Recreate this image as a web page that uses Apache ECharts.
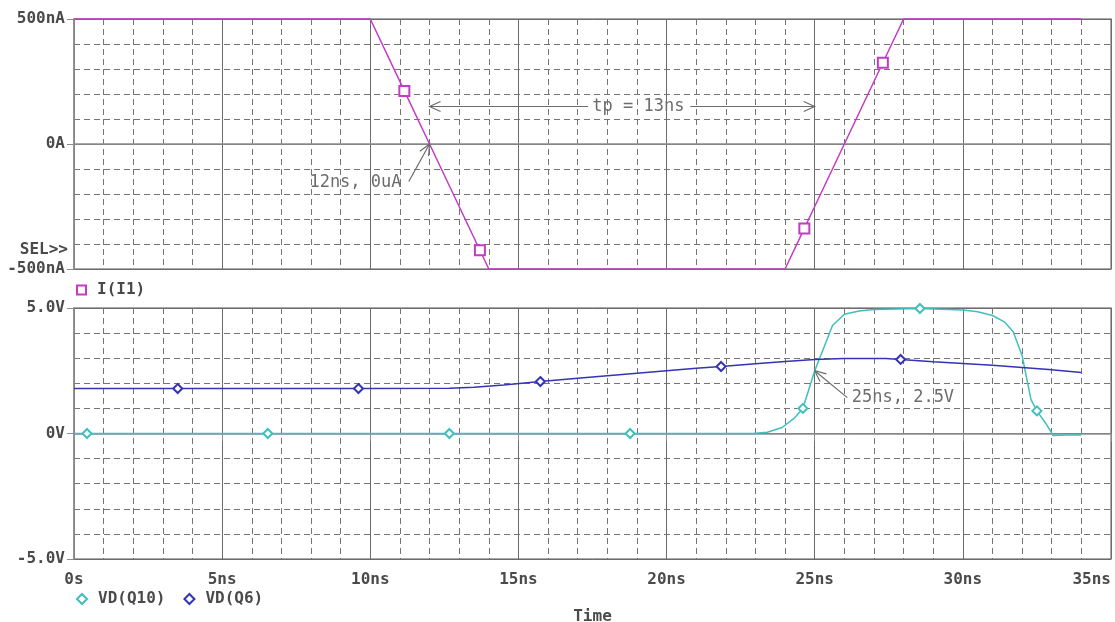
<!DOCTYPE html>
<html>
<head>
<meta charset="utf-8">
<script src="https://cdn.jsdelivr.net/npm/echarts/dist/echarts.min.js"></script>
<style>
  html, body { margin: 0; padding: 0; background: #ffffff; }
  #chart { width: 1115px; height: 622px; }
</style>
</head>
<body>
<div id="chart"></div>
<script>
// ---- Time axis (ns) ----
const timeTickValues = [0, 5, 10, 15, 20, 25, 30, 35];
const timeTickLabels = ['0s', '5ns', '10ns', '15ns', '20ns', '25ns', '30ns', '35ns'];

// ---- Current plot: I(I1) in nA ----
const currentTickValues = [-500, 0, 500];
const currentTickLabels = ['-500nA', '0A', '500nA'];
const i1Time  = [0, 10, 11.15, 12, 13.7, 14, 24, 24.65, 25, 26, 27.3, 28, 34];
const i1Value = [500, 500, 212.5, 0, -425, -500, -500, -337.5, -250, 0, 325, 500, 500];
const i1Markers = [11.15, 13.7, 24.65, 27.3];

// ---- Voltage plot: VD(Q10), VD(Q6) in V ----
const voltTickValues = [-5, 0, 5];
const voltTickLabels = ['-5.0V', '0V', '5.0V'];
const q10Time  = [0, 0.44, 6.54, 12.67, 18.77, 22.9, 23.4, 23.9, 24.3, 24.6, 25, 25.3, 25.6, 26, 26.5, 27, 28.55, 30, 30.5, 31, 31.4, 31.7, 32, 32.3, 32.5, 32.8, 33.05, 33.5, 34];
const q10Value = [0, 0, 0, 0, 0, 0, 0.05, 0.24, 0.6, 1.0, 2.5, 3.4, 4.3, 4.75, 4.88, 4.94, 4.98, 4.92, 4.85, 4.7, 4.45, 4.05, 3.1, 1.35, 0.9, 0.4, -0.08, -0.06, -0.06];
const q10Markers = [0.44, 6.54, 12.67, 18.77, 24.6, 28.55, 32.5];
const q6Time  = [0, 3.5, 9.6, 12.67, 13.5, 14.5, 15.74, 17, 18, 19, 20, 21, 21.84, 23, 24, 25, 26, 27.4, 27.9, 29, 30, 31, 32, 32.9, 34];
const q6Value = [1.79, 1.79, 1.79, 1.8, 1.84, 1.93, 2.07, 2.2, 2.3, 2.4, 2.5, 2.6, 2.67, 2.78, 2.87, 2.95, 2.99, 2.99, 2.95, 2.86, 2.79, 2.72, 2.63, 2.55, 2.43];
const q6Markers = [3.5, 9.6, 15.74, 21.84, 27.9];

// ---- Cursor annotations ----
const tpLabel = 'tp = 13ns';
const tpStart = 12, tpEnd = 25, tpLevel = 150;
const cursor1 = { t: 12, v: 0, text: '12ns, 0uA' };
const cursor2 = { t: 25, v: 2.5, text: '25ns, 2.5V' };

const C_MAGENTA = '#c43cc4';
const C_CYAN = '#3fbfbf';
const C_BLUE = '#3434b4';
const C_TEXT = '#4a4a4a';
const C_NOTE = '#6c6c6c';
const C_GRID = '#757575';
const C_MAJOR = '#6c6c6c';
const C_FRAME = '#8e8a92';
const MONO = '"DejaVu Sans Mono", "Liberation Mono", monospace';

function lookup(values, labels) {
  return function (v) {
    for (let k = 0; k < values.length; k++) {
      if (Math.abs(values[k] - v) < 1e-9) return labels[k];
    }
    return '';
  };
}

function buildData(ts, vs, marks, sym) {
  return ts.map(function (t, k) {
    const item = { value: [t, vs[k]] };
    item.symbol = marks.indexOf(t) >= 0 ? sym : 'none';
    return item;
  });
}

function xAxisFor(gridIndex, showLabels) {
  return {
    type: 'value', gridIndex: gridIndex, min: 0, max: 35, interval: 5,
    name: showLabels ? 'Time' : '',
    nameLocation: 'middle', nameGap: 50,
    nameTextStyle: { fontFamily: MONO, fontWeight: 'bold', fontSize: 16, color: C_TEXT },
    axisLine: { show: true, lineStyle: { color: C_FRAME, width: 1.5 } },
    axisTick: { show: showLabels, length: 8, lineStyle: { color: C_FRAME } },
    axisLabel: {
      show: showLabels, margin: 13, alignMaxLabel: 'right',
      fontFamily: MONO, fontWeight: 'bold', fontSize: 16, color: C_TEXT,
      formatter: lookup(timeTickValues, timeTickLabels)
    },
    splitLine: { show: true, lineStyle: { color: C_MAJOR, width: 1 } },
    minorTick: { show: false, splitNumber: 5 },
    minorSplitLine: { show: true, lineStyle: { color: C_GRID, width: 1, type: [6, 4] } }
  };
}

function yAxisFor(gridIndex, min, max, interval, tv, tl) {
  return {
    type: 'value', gridIndex: gridIndex, min: min, max: max, interval: interval,
    axisLine: { show: true, lineStyle: { color: C_FRAME, width: 1.5 } },
    axisTick: { show: true, length: 7, lineStyle: { color: C_FRAME } },
    axisLabel: {
      show: true, margin: 9,
      fontFamily: MONO, fontWeight: 'bold', fontSize: 16, color: C_TEXT,
      formatter: lookup(tv, tl)
    },
    splitLine: { show: true, lineStyle: { color: C_MAJOR, width: 1 } },
    minorTick: { show: false, splitNumber: 5 },
    minorSplitLine: { show: true, lineStyle: { color: C_GRID, width: 1, type: [6, 4] } }
  };
}

const legendText = { fontFamily: MONO, fontWeight: 'bold', fontSize: 16, color: C_TEXT, padding: [0, 0, 0, 6] };

const chart = echarts.init(document.getElementById('chart'), null, { renderer: 'canvas' });

chart.setOption({
  animation: false,
  backgroundColor: '#ffffff',
  grid: [
    { left: 74, top: 19, width: 1037, height: 250, show: true, borderColor: C_FRAME, borderWidth: 1.5,
      backgroundColor: 'transparent', containLabel: false, outerBoundsMode: 'none' },
    { left: 74, top: 308, width: 1037, height: 251, show: true, borderColor: C_FRAME, borderWidth: 1.5,
      backgroundColor: 'transparent', containLabel: false, outerBoundsMode: 'none' }
  ],
  xAxis: [xAxisFor(0, false), xAxisFor(1, true)],
  yAxis: [
    yAxisFor(0, -500, 500, 500, currentTickValues, currentTickLabels),
    yAxisFor(1, -5, 5, 5, voltTickValues, voltTickLabels)
  ],
  legend: [
    {
      left: 76, top: 282, padding: 0, itemWidth: 9, itemHeight: 9, itemGap: 18,
      data: [{ name: 'I(I1)', icon: 'emptyRect' }], textStyle: legendText, selectedMode: false
    },
    {
      left: 76, top: 591, padding: 0, itemWidth: 10, itemHeight: 10, itemGap: 18,
      data: [{ name: 'VD(Q10)', icon: 'emptyDiamond' }, { name: 'VD(Q6)', icon: 'emptyDiamond' }],
      textStyle: legendText, selectedMode: false
    }
  ],
  series: [
    {
      name: 'I(I1)', type: 'line', xAxisIndex: 0, yAxisIndex: 0,
      data: buildData(i1Time, i1Value, i1Markers, 'emptyRect'),
      showSymbol: true, showAllSymbol: true, symbolSize: 10, clip: false,
      lineStyle: { color: C_MAGENTA, width: 1.5 }, itemStyle: { color: C_MAGENTA, borderWidth: 1.5 },
      emphasis: { disabled: true }, z: 5
    },
    {
      name: 'VD(Q10)', type: 'line', xAxisIndex: 1, yAxisIndex: 1,
      data: buildData(q10Time, q10Value, q10Markers, 'emptyDiamond'),
      showSymbol: true, showAllSymbol: true, symbolSize: [9, 9], clip: false,
      lineStyle: { color: C_CYAN, width: 1.5 }, itemStyle: { color: C_CYAN, borderWidth: 1.5 },
      emphasis: { disabled: true }, z: 5
    },
    {
      name: 'VD(Q6)', type: 'line', xAxisIndex: 1, yAxisIndex: 1,
      data: buildData(q6Time, q6Value, q6Markers, 'emptyDiamond'),
      showSymbol: true, showAllSymbol: true, symbolSize: [9, 9], clip: false,
      lineStyle: { color: C_BLUE, width: 1.5 }, itemStyle: { color: C_BLUE, borderWidth: 1.5 },
      emphasis: { disabled: true }, z: 5
    }
  ]
});

// ---- Cursor arrows and notes, placed through the axes' own scales ----
function px(grid, t, v) { return chart.convertToPixel({ gridIndex: grid }, [t, v]); }

function arrow(tip, tail) {
  const L = 11, W = 5;
  const dx = tip[0] - tail[0], dy = tip[1] - tail[1];
  const len = Math.hypot(dx, dy);
  const ux = dx / len, uy = dy / len, nx = -uy, ny = ux;
  const st = { stroke: C_NOTE, lineWidth: 1.2, fill: null };
  return [
    { type: 'line', shape: { x1: tail[0], y1: tail[1], x2: tip[0], y2: tip[1] }, style: st, z: 20 },
    { type: 'polyline', shape: { points: [
        [tip[0] - ux * L + nx * W, tip[1] - uy * L + ny * W],
        [tip[0], tip[1]],
        [tip[0] - ux * L - nx * W, tip[1] - uy * L - ny * W]
      ] }, style: st, z: 20 }
  ];
}

function note(pos, text, align) {
  return {
    type: 'text', x: pos[0], y: pos[1], z: 20,
    style: { text: text, fill: C_NOTE, font: '17px ' + MONO, align: align, verticalAlign: 'middle' }
  };
}

const g = [];
// tp span between the two cursors
const tpTextPos = px(0, 19.05, tpLevel);
g.push.apply(g, arrow(px(0, tpStart, tpLevel), px(0, 17.35, tpLevel)));
g.push.apply(g, arrow(px(0, tpEnd, tpLevel), px(0, 20.8, tpLevel)));
g.push(note(tpTextPos, tpLabel, 'center'));
// cursor 1 on I(I1)
g.push.apply(g, arrow(px(0, cursor1.t, cursor1.v), px(0, 11.3, -150)));
g.push(note(px(0, 9.5, -155), cursor1.text, 'center'));
// cursor 2 on VD(Q10)
g.push.apply(g, arrow(px(1, cursor2.t, cursor2.v), px(1, 26.1, 1.43)));
g.push(note(px(1, 26.25, 1.43), cursor2.text, 'left'));
// selected-plot marker
g.push({
  type: 'text', x: 68, y: 250, z: 20,
  style: { text: 'SEL>>', fill: C_TEXT, font: 'bold 16px ' + MONO, align: 'right', verticalAlign: 'middle' }
});

chart.setOption({ graphic: g });
</script>
</body>
</html>
